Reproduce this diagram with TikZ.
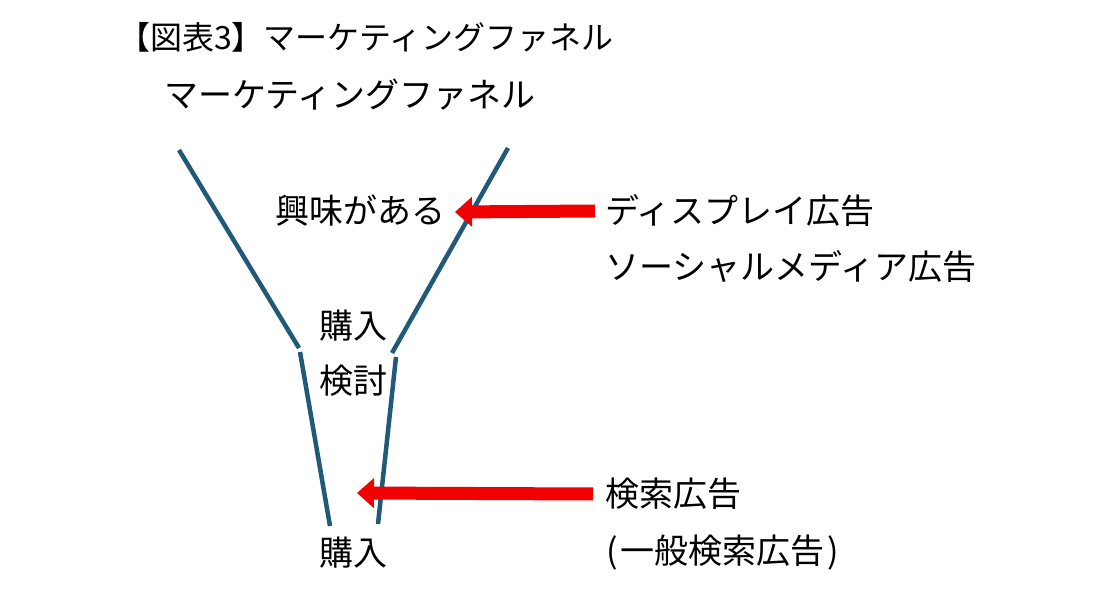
\documentclass[tikz,border=0pt]{standalone}
\usepackage{fontspec}
\setmainfont{Noto Sans CJK JP}
\usetikzlibrary{arrows.meta}
\definecolor{funnelblue}{RGB}{33,89,120}
\definecolor{arrowred}{RGB}{240,0,0}
\tikzset{
  label/.style={anchor=west, inner sep=0pt, font=\fontsize{34}{40}\selectfont},
  wall/.style={line width=4.5pt, funnelblue},
  push/.style={line width=13pt, arrowred, -{Triangle[length=17pt, width=29pt]}},
}
\begin{document}
\begin{tikzpicture}[x=1pt, y=-1pt]
\useasboundingbox (0,0) rectangle (1093,609);

\draw[wall]
    (179,150) -- (299,348);
\draw[wall]
    (508,148) -- (392,353);
\draw[wall]
    (300,352) -- (330,526);
\draw[wall]
    (396,357) -- (378,524);

\node[label, font=\fontsize{32}{38}\selectfont] (title) at (118,37) {【図表3】マーケティングファネル};
\node[label] (funnel) at (164,95) {マーケティングファネル};
\node[label] (interest) at (275,211) {興味がある};
\node[label] (consider1) at (319,326) {購入};
\node[label] (consider2) at (319,381) {検討};
\node[label] (buy) at (319,553) {購入};
\node[label] (display) at (605,211) {ディスプレイ広告};
\node[label] (social) at (605,267) {ソーシャルメディア広告};
\node[label] (search) at (605,494) {検索広告};
\node[label] (general) at (606,553) {(\hspace{3pt}一般検索広告\hspace{3pt})};

\coordinate (tipA) at (455,212);
\coordinate (tipB) at (357,493);
\draw[push] ([xshift=-10pt]display.west) -- (tipA);
\draw[push] ([xshift=-12pt]search.west) -- (tipB);
\end{tikzpicture}
\end{document}
